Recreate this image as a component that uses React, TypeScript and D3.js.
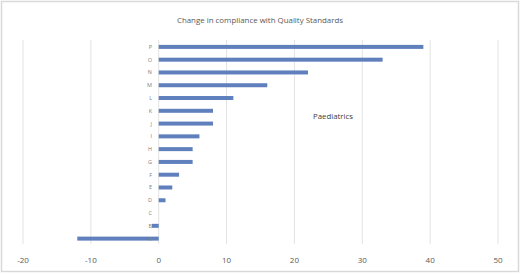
import React from "react";
import * as d3 from "d3";

const categories = ["A", "B", "C", "D", "E", "F", "G", "H", "I", "J", "K", "L", "M", "N", "O", "P"];
const values = [-12, -1, 0, 1, 2, 3, 5, 5, 6, 8, 8, 11, 16, 22, 33, 39];
const xTicks = [-20, -10, 0, 10, 20, 30, 40, 50];
const title = "Change in compliance with Quality Standards";
const annotation = "Paediatrics";

const W = 520;
const H = 274;

export default function App() {
  const x = d3.scaleLinear().domain([-20, 50]).range([23, 498]);
  const y = d3
    .scaleBand<string>()
    .domain([...categories].reverse())
    .range([40.5, 245])
    .paddingInner(0);
  const barH = 4;
  const font = "'Open Sans', 'Noto Sans', sans-serif";
  return (
    <svg
      width={W}
      height={H}
      style={{ position: "absolute", left: 0, top: 0, background: "#fff" }}
      fontFamily={font}
    >
      <rect x={1.5} y={1.5} width={517} height={270} fill="#fff" stroke="#d9d9d9" strokeWidth={1.5} />
      <text x={260} y={23} textAnchor="middle" fontSize={7.9} fill="#595959">
        {title}
      </text>
      {xTicks.map((t) => (
        <g key={t}>
          <line x1={x(t)} x2={x(t)} y1={40} y2={244} stroke="#e3e3e3" strokeWidth={1} />
          <text x={x(t)} y={263} textAnchor="middle" fontSize={8} fill="#595959">
            {t}
          </text>
        </g>
      ))}
      {categories.map((c, i) => {
        const v = values[i];
        const cy = (y(c) as number) + y.bandwidth() / 2;
        return (
          <g key={c}>
            <rect
              x={Math.min(x(0), x(v))}
              y={cy - barH / 2}
              width={Math.abs(x(v) - x(0))}
              height={barH}
              fill="#5f80bd"
            />
            <text x={152} y={cy + 2} textAnchor="end" fontSize={5.5} fill="#808080">
              {c}
            </text>
          </g>
        );
      })}
      <text x={313} y={119} fontSize={7.8} fill="#404040">
        {annotation}
      </text>
    </svg>
  );
}
